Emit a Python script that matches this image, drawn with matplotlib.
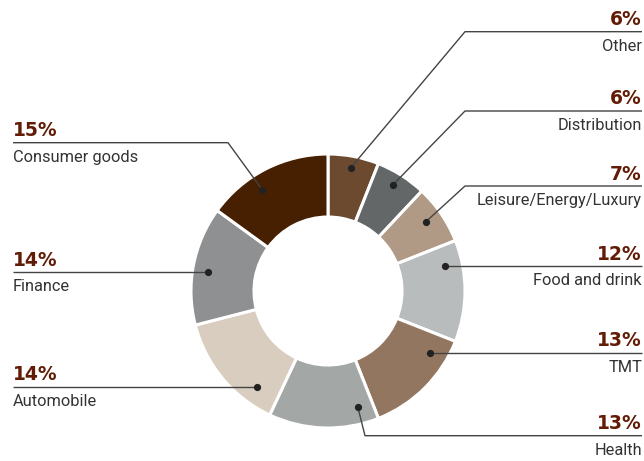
import matplotlib
matplotlib.use("Agg")
import matplotlib.pyplot as plt
import numpy as np

# Sector shares (%), clockwise from 12 o'clock
categories = ["Other", "Distribution", "Leisure/Energy/Luxury", "Food and drink",
              "TMT", "Health", "Automobile", "Finance", "Consumer goods"]
shares = [6, 6, 7, 12, 13, 13, 14, 14, 15]
colors = ["#6b4a30", "#636768", "#b09a86", "#b9bcbc", "#937660",
          "#a3a8a7", "#d9cdc0", "#8f9092", "#462000"]

W, H = 644, 461
CX, CY = 328, 291          # ring centre (pixel units, y down)
R_OUT, R_IN = 137, 74

# Label layout: side, horizontal rule y, leader anchor angle/radius, elbow point
side = ["R", "R", "R", "R", "R", "R", "L", "L", "L"]
rule_y = [31.7, 111, 186, 266, 352.5, 435.7, 387, 272, 142.7]
anchor_deg = [79.6, 58.6, 35.3, 12.0, -30.9, -75.6, -126.5, 171.0, 123.0]
anchor_r = [125, 124, 120, 119.6, 119, 119.5, 119, 121, 121]
elbow_x = [465, 465, 465, None, None, 365, None, None, 228]

PCT_COLOR = "#621c06"
TXT_COLOR = "#333333"
LINE_COLOR = "#444444"


def Y(py):
    return H - py


fig = plt.figure(figsize=(W / 100, H / 100), dpi=100)
ax = fig.add_axes([0, 0, 1, 1])

ax.pie(shares, colors=colors, startangle=90, counterclock=False,
       radius=R_OUT, center=(CX, Y(CY)),
       wedgeprops=dict(width=R_OUT - R_IN, edgecolor="white", linewidth=2.2))

ax.set_xlim(0, W)
ax.set_ylim(0, H)
ax.set_aspect("equal")
ax.axis("off")

for name, val, s, ry, ang, ar, ex in zip(categories, shares, side, rule_y,
                                         anchor_deg, anchor_r, elbow_x):
    t = np.deg2rad(ang)
    dx, dy = CX + ar * np.cos(t), CY - ar * np.sin(t)
    end_x = 642 if s == "R" else 13
    xs, ys = [dx], [dy]
    if ex is not None:
        xs.append(ex)
        ys.append(ry)
    else:
        ys[0] = ry
    xs.append(end_x)
    ys.append(ry)
    ax.plot(xs, [Y(v) for v in ys], color=LINE_COLOR, lw=1.0,
            solid_capstyle="butt", zorder=3)
    ax.plot([dx], [Y(ys[0])], "o", color="#222222", ms=4.2, zorder=4)

    ha = "right" if s == "R" else "left"
    ax.text(end_x, Y(ry - 6.5), f"{val}%", ha=ha, va="baseline",
            fontsize=13.5, fontweight="bold", color=PCT_COLOR,
            family=["DejaVu Sans"])
    ax.text(end_x, Y(ry + 19.3), name, ha=ha, va="baseline",
            fontsize=11.8, color=TXT_COLOR, family=["Roboto", "DejaVu Sans"])

fig.savefig("out.png", dpi=100)
